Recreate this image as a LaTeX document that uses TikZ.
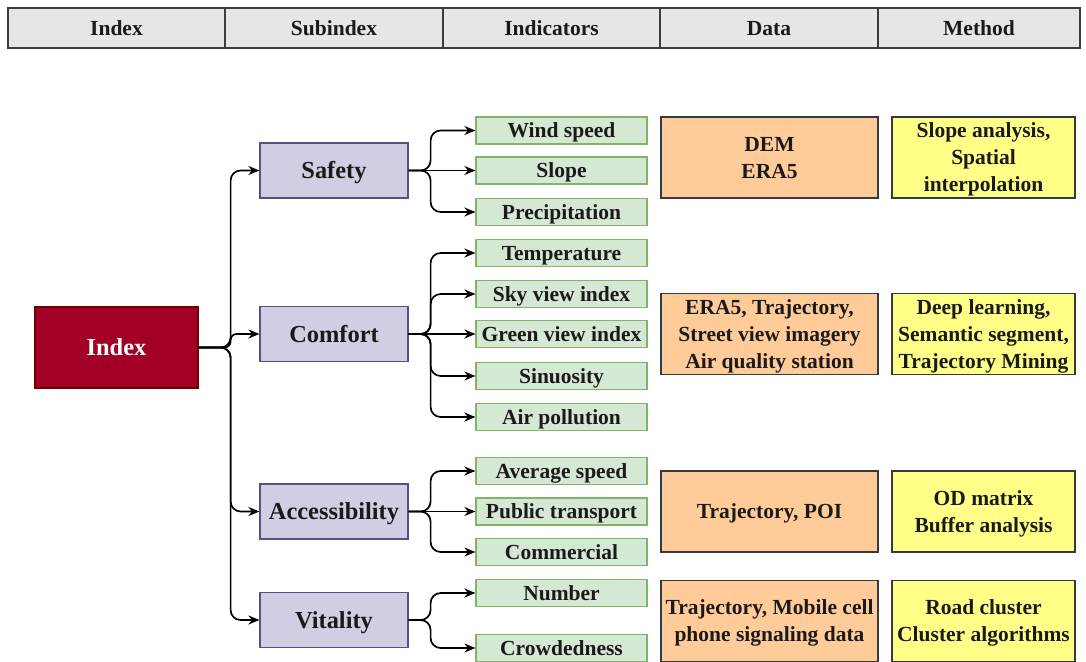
\documentclass[tikz,border=0pt]{standalone}
\usepackage{fontspec}
\setmainfont{Liberation Serif}
\usetikzlibrary{arrows.meta}
\definecolor{hdrfill}{HTML}{E6E6E6}
\definecolor{hdrline}{HTML}{3C3C3C}
\definecolor{idxfill}{HTML}{A20025}
\definecolor{idxline}{HTML}{6F0000}
\definecolor{subfill}{HTML}{D0CEE2}
\definecolor{subline}{HTML}{56517E}
\definecolor{indfill}{HTML}{D5E8D4}
\definecolor{indline}{HTML}{82B366}
\definecolor{datfill}{HTML}{FFCC99}
\definecolor{metfill}{HTML}{FFFF88}
\definecolor{boxline}{HTML}{36393D}
\definecolor{txt}{HTML}{1A1A1A}
\newcommand\lnstrut{\rule[-5pt]{0pt}{24.6pt}}
\begin{document}
\begin{tikzpicture}[x=1pt,y=-1pt,
  box/.style={draw, line width=1.2pt, inner sep=0pt, align=center, text=txt,
    font=\bfseries\fontsize{21.5}{27}\selectfont},
  one/.style={text height=14.6pt, text depth=0pt},
  onebig/.style={text height=16.6pt, text depth=0pt},
  hdr/.style={box, one, fill=hdrfill, draw=hdrline, minimum height=40pt},
  idxbox/.style={box, onebig, fill=idxfill, draw=idxline, text=white, minimum width=163pt, minimum height=81pt,
    font=\bfseries\fontsize{24.4}{28}\selectfont},
  subbox/.style={box, onebig, fill=subfill, draw=subline, minimum width=148pt, minimum height=55pt,
    font=\bfseries\fontsize{24.4}{28}\selectfont},
  indbox/.style={box, one, fill=indfill, draw=indline, minimum width=171pt, minimum height=27pt},
  datbox/.style={box, fill=datfill, draw=boxline, minimum width=217pt, minimum height=81pt},
  metbox/.style={box, fill=metfill, draw=boxline, minimum width=183pt, minimum height=81pt},
  conn/.style={draw=black, line width=1.7pt, rounded corners=10pt, -{Stealth[length=11pt,width=9pt]}}
]
\useasboundingbox (0,0) rectangle (1086,661);
\clip (0,0) rectangle (1086,661);
\fill[white] (0,0) rectangle (1086,661);

% header
\node[hdr, minimum width=217pt] (h1) at (116.5,28) {Index};
\node[hdr, minimum width=218pt] (h2) at (334,28) {Subindex};
\node[hdr, minimum width=217pt] (h3) at (551.5,28) {Indicators};
\node[hdr, minimum width=218pt] (h4) at (769,28) {Data};
\node[hdr, minimum width=202pt] (h5) at (979,28) {Method};

% index
\node[idxbox] (idx) at (116.5,347.5) {Index};

% subindices
\node[subbox] (safety) at (334,170.5) {Safety};
\node[subbox] (comfort) at (334,334) {Comfort};
\node[subbox] (access) at (334,511.5) {Accessibility};
\node[subbox] (vital) at (334,620) {Vitality};

% indicators
\node[indbox] (wind) at (561.5,130.5) {Wind speed};
\node[indbox] (slope) at (561.5,170.5) {Slope};
\node[indbox] (prec) at (561.5,212) {Precipitation};
\node[indbox] (temp) at (561.5,253) {Temperature};
\node[indbox] (sky) at (561.5,294) {Sky view index};
\node[indbox] (green) at (561.5,334) {Green view index};
\node[indbox] (sinu) at (561.5,376) {Sinuosity};
\node[indbox] (air) at (561.5,417) {Air pollution};
\node[indbox] (avg) at (561.5,471) {Average speed};
\node[indbox] (pub) at (561.5,511.5) {Public transport};
\node[indbox] (com) at (561.5,552) {Commercial};
\node[indbox] (num) at (561.5,593) {Number};
\node[indbox] (crowd) at (561.5,648) {Crowdedness};

% data
\node[datbox] (d1) at (769.5,157.5) {\lnstrut DEM\\ERA5\lnstrut};
\node[datbox] (d2) at (769.5,334) {\lnstrut ERA5, Trajectory,\\Street view imagery\\Air quality station\lnstrut};
\node[datbox, one] (d3) at (769.5,511.5) {Trajectory, POI};
\node[datbox] (d4) at (769.5,621) {\lnstrut Trajectory, Mobile cell\\phone signaling data\lnstrut};

% method
\node[metbox] (m1) at (983.5,157.5) {\lnstrut Slope analysis,\\Spatial\\interpolation\lnstrut};
\node[metbox] (m2) at (983.5,334) {\lnstrut Deep learning,\\Semantic segment,\\Trajectory Mining\lnstrut};
\node[metbox] (m3) at (983.5,511.5) {\lnstrut OD matrix\\Buffer analysis\lnstrut};
\node[metbox] (m4) at (983.5,621) {\lnstrut Road cluster\\Cluster algorithms\lnstrut};

% index -> subindices
\draw[conn] (idx.east) -- ++(32,0) |- (safety.west);
\draw[conn, rounded corners=6pt] (idx.east) -- ++(32,0) |- (comfort.west);
\draw[conn] (idx.east) -- ++(32,0) |- (access.west);
\draw[conn] (idx.east) -- ++(32,0) |- (vital.west);

% safety
\draw[conn] (safety.east) -- ++(22,0) |- (wind.west);
\draw[conn] (safety.east) -- (slope.west);
\draw[conn] (safety.east) -- ++(22,0) |- (prec.west);

% comfort
\draw[conn] (comfort.east) -- ++(22,0) |- (temp.west);
\draw[conn] (comfort.east) -- ++(22,0) |- (sky.west);
\draw[conn] (comfort.east) -- (green.west);
\draw[conn] (comfort.east) -- ++(22,0) |- (sinu.west);
\draw[conn] (comfort.east) -- ++(22,0) |- (air.west);

% accessibility
\draw[conn] (access.east) -- ++(22,0) |- (avg.west);
\draw[conn] (access.east) -- (pub.west);
\draw[conn] (access.east) -- ++(22,0) |- (com.west);

% vitality
\draw[conn] (vital.east) -- ++(22,0) |- (num.west);
\draw[conn] (vital.east) -- ++(22,0) |- (crowd.west);
\end{tikzpicture}
\end{document}
